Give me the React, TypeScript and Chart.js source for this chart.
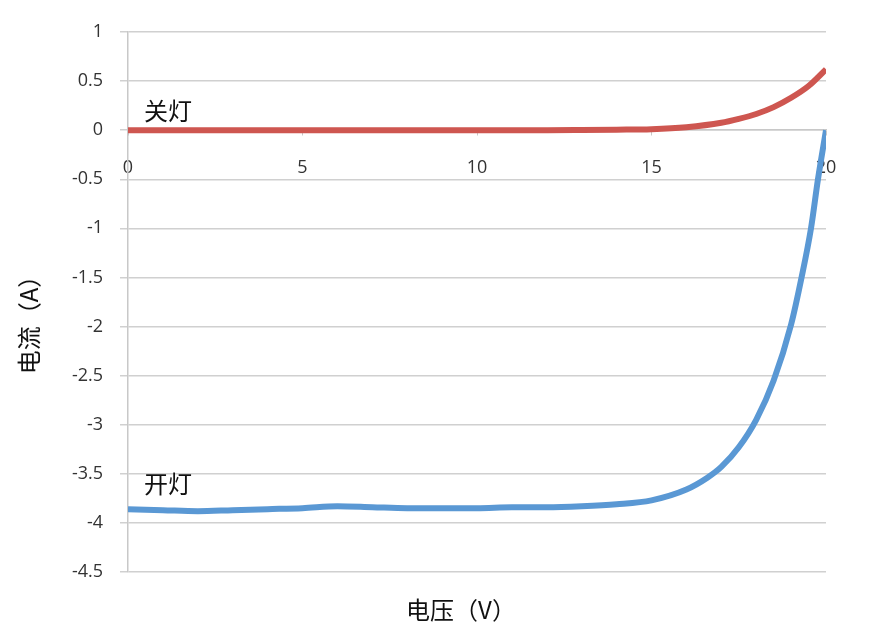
import { useEffect, useRef } from "react"
import { Chart, registerables } from "chart.js"
Chart.register(...registerables)

// voltage (V) for each sample, and current (A) with the light off / on
const offVoltage = [0, 2, 4, 6, 8, 10, 12, 13, 14, 15, 16, 17, 17.5, 18, 18.5, 19, 19.5, 20]
const offCurrent = [0, 0, 0, 0, 0, 0, 0, 0.002, 0.005, 0.01, 0.03, 0.075, 0.115, 0.165, 0.235, 0.33, 0.45, 0.62]

const onVoltage = [0, 1, 2, 3, 4, 5, 6, 7, 8, 9, 10, 11, 12, 13, 14, 15, 16, 16.6, 17, 17.5, 18, 18.5, 19, 19.3, 19.57, 19.77, 20]
const onCurrent = [-3.86, -3.87, -3.88, -3.87, -3.86, -3.85, -3.83, -3.84, -3.85, -3.85, -3.85, -3.84, -3.84, -3.83, -3.81, -3.77, -3.66, -3.54, -3.43, -3.23, -2.95, -2.55, -1.98, -1.5, -1.0, -0.5, 0]

const xTicks = [0, 5, 10, 15, 20]
const yTicks = [1, 0.5, 0, -0.5, -1, -1.5, -2, -2.5, -3, -3.5, -4, -4.5]

const toPoints = (xs: number[], ys: number[]) => xs.map((x, i) => ({ x, y: ys[i] }))

const cjk = '"Noto Sans CJK SC", "Noto Sans", sans-serif'

// axis titles and the two curve labels
const textPlugin = {
  id: "texts",
  afterDraw(chart: any) {
    const { ctx, chartArea, scales } = chart
    ctx.save()
    ctx.fillStyle = "#111"
    ctx.font = `24px ${cjk}`
    ctx.textBaseline = "middle"
    ctx.textAlign = "left"
    ctx.fillText("关灯", 144, scales.y.getPixelForValue(0.2))
    ctx.fillText("开灯", 144, scales.y.getPixelForValue(-3.6))
    ctx.textAlign = "center"
    ctx.fillText("电压（V）", 461, chartArea.bottom + 38)
    ctx.translate(29, 319)
    ctx.rotate(-Math.PI / 2)
    ctx.fillText("电流（A）", 0, 0)
    ctx.restore()
  },
}

export default function App() {
  const canvasRef = useRef<HTMLCanvasElement>(null)
  const chartRef = useRef<Chart | null>(null)

  useEffect(() => {
    if (!canvasRef.current) return
    if (chartRef.current) chartRef.current.destroy()

    chartRef.current = new Chart(canvasRef.current, {
      type: "line",
      data: {
        datasets: [
          {
            label: "关灯",
            data: toPoints(offVoltage, offCurrent),
            borderColor: "rgb(206, 86, 80)",
            borderWidth: 6,
            pointRadius: 0,
            cubicInterpolationMode: "monotone",
          },
          {
            label: "开灯",
            data: toPoints(onVoltage, onCurrent),
            borderColor: "rgb(90, 152, 212)",
            borderWidth: 6,
            pointRadius: 0,
            cubicInterpolationMode: "monotone",
          },
        ],
      },
      options: {
        animation: false,
        responsive: false,
        layout: { padding: { left: 0, right: 44, top: 32, bottom: 59 } },
        plugins: { legend: { display: false }, tooltip: { enabled: false } },
        scales: {
          x: {
            type: "linear",
            position: { y: 0 },
            min: 0,
            max: 20,
            afterBuildTicks: (s: any) => {
              s.ticks = xTicks.map((v) => ({ value: v }))
            },
            grid: { drawOnChartArea: false, drawTicks: true, tickLength: 5, color: "#c8c8c8" },
            border: { color: "#c8c8c8", width: 1.5 },
            ticks: {
              color: "#333",
              font: { family: '"Open Sans", sans-serif', size: 18 },
              padding: 22,
              maxRotation: 0,
              callback: (v: any) => String(v),
            },
          },
          y: {
            type: "linear",
            min: -4.5,
            max: 1,
            afterBuildTicks: (s: any) => {
              s.ticks = yTicks.map((v) => ({ value: v }))
            },
            afterFit: (s: any) => {
              s.width = 128
            },
            grid: { color: "#d0d0d0", lineWidth: 1.5, tickLength: 8 },
            border: { color: "#c8c8c8", width: 1.5 },
            ticks: {
              color: "#333",
              font: { family: '"Open Sans", sans-serif', size: 18 },
              padding: 17,
              callback: (v: any) => String(v),
            },
          },
        },
      },
      plugins: [textPlugin],
    } as any)

    return () => {
      if (chartRef.current) {
        chartRef.current.destroy()
        chartRef.current = null
      }
    }
  }, [])

  return (
    <div style={{ position: "absolute", left: 0, top: 0, width: 870, height: 631, background: "#fff" }}>
      <canvas ref={canvasRef} width={870} height={631}></canvas>
    </div>
  )
}
